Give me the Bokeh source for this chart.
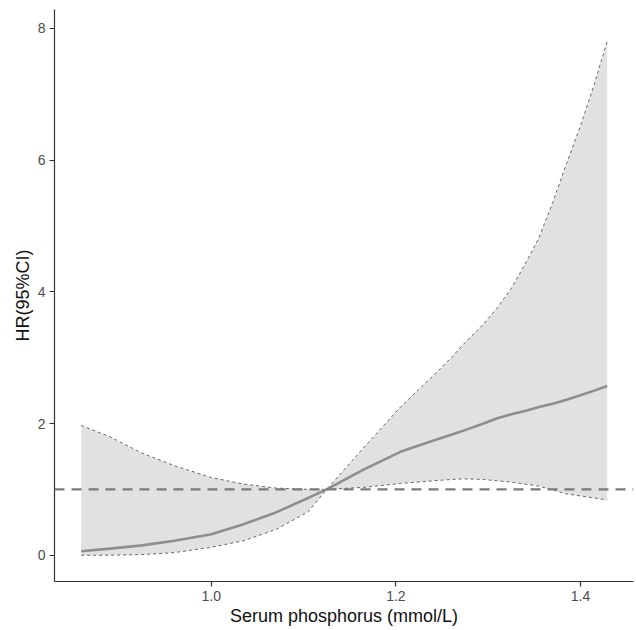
from bokeh.plotting import figure
from bokeh.models import Span, FixedTicker, NumeralTickFormatter, ColumnDataSource, Range1d
from bokeh.embed import file_html
from bokeh.resources import INLINE

# Serum phosphorus (mmol/L)
phos = [0.859, 0.89, 0.925, 0.96, 1.0, 1.035, 1.07, 1.105, 1.125, 1.165,
        1.205, 1.24, 1.26, 1.275, 1.295, 1.31, 1.325, 1.34, 1.355, 1.37,
        1.385, 1.40, 1.415, 1.429]
# Hazard ratio
hr = [0.06, 0.10, 0.15, 0.22, 0.32, 0.47, 0.65, 0.87, 1.0, 1.30,
      1.57, 1.74, 1.83, 1.90, 2.00, 2.08, 2.14, 2.19, 2.25, 2.30,
      2.36, 2.43, 2.50, 2.57]
# 95% CI upper bound
hr_upper = [1.97, 1.80, 1.55, 1.36, 1.18, 1.08, 1.02, 1.0, 1.0, 1.63,
            2.25, 2.72, 3.00, 3.23, 3.51, 3.76, 4.05, 4.42, 4.82, 5.36,
            5.95, 6.52, 7.15, 7.81]
# 95% CI lower bound
hr_lower = [0.0, 0.0, 0.01, 0.04, 0.12, 0.22, 0.39, 0.66, 1.0, 1.03,
            1.09, 1.13, 1.15, 1.16, 1.15, 1.13, 1.11, 1.08, 1.05, 0.99,
            0.93, 0.90, 0.87, 0.84]

x_ticks = [1.0, 1.2, 1.4]
y_ticks = [0, 2, 4, 6, 8]
reference_hr = 1.0

src = ColumnDataSource(dict(x=phos, hr=hr, up=hr_upper, lo=hr_lower))

FONT = "Liberation Sans"

p = figure(width=636, height=630, output_backend="svg", toolbar_location=None,
           x_range=Range1d(0.8301, 1.4575), y_range=Range1d(-0.399, 8.288),
           min_border_left=54, min_border_right=3, min_border_top=9, min_border_bottom=49)

p.varea(x="x", y1="lo", y2="up", source=src, fill_color="#e1e1e1", fill_alpha=1.0)
p.line(x="x", y="up", source=src, line_color="#666666", line_width=1, line_dash="3 3")
p.line(x="x", y="lo", source=src, line_color="#666666", line_width=1, line_dash="3 3")
p.line(x="x", y="hr", source=src, line_color="#8e8e8e", line_width=2.6)

p.add_layout(Span(location=reference_hr, dimension="width", line_color="#7a7a7a",
                  line_width=2.2, line_dash="10 7"))

p.xgrid.visible = False
p.ygrid.visible = False
p.outline_line_color = None
p.background_fill_color = "white"
p.border_fill_color = "white"

for ax in (p.xaxis[0], p.yaxis[0]):
    ax.axis_line_color = "#333333"
    ax.axis_line_width = 1.2
    ax.major_tick_line_color = "#333333"
    ax.major_tick_line_width = 1.2
    ax.major_tick_out = 5
    ax.major_tick_in = 0
    ax.minor_tick_line_color = None
    ax.major_label_text_font = FONT
    ax.major_label_text_font_size = "14px"
    ax.major_label_text_color = "#4d4d4d"
    ax.axis_label_text_font = FONT
    ax.axis_label_text_font_size = "18px"
    ax.axis_label_text_font_style = "normal"
    ax.axis_label_text_color = "#111111"
    ax.axis_label_standoff = 2

p.xaxis[0].ticker = FixedTicker(ticks=x_ticks)
p.xaxis[0].formatter = NumeralTickFormatter(format="0.0")
p.xaxis[0].axis_label = "Serum phosphorus (mmol/L)"
p.xaxis[0].major_label_standoff = 4

p.yaxis[0].ticker = FixedTicker(ticks=y_ticks)
p.yaxis[0].axis_label = "HR(95%CI)"
p.yaxis[0].major_label_standoff = 4

open("out.html", "w").write(file_html(p, INLINE))
